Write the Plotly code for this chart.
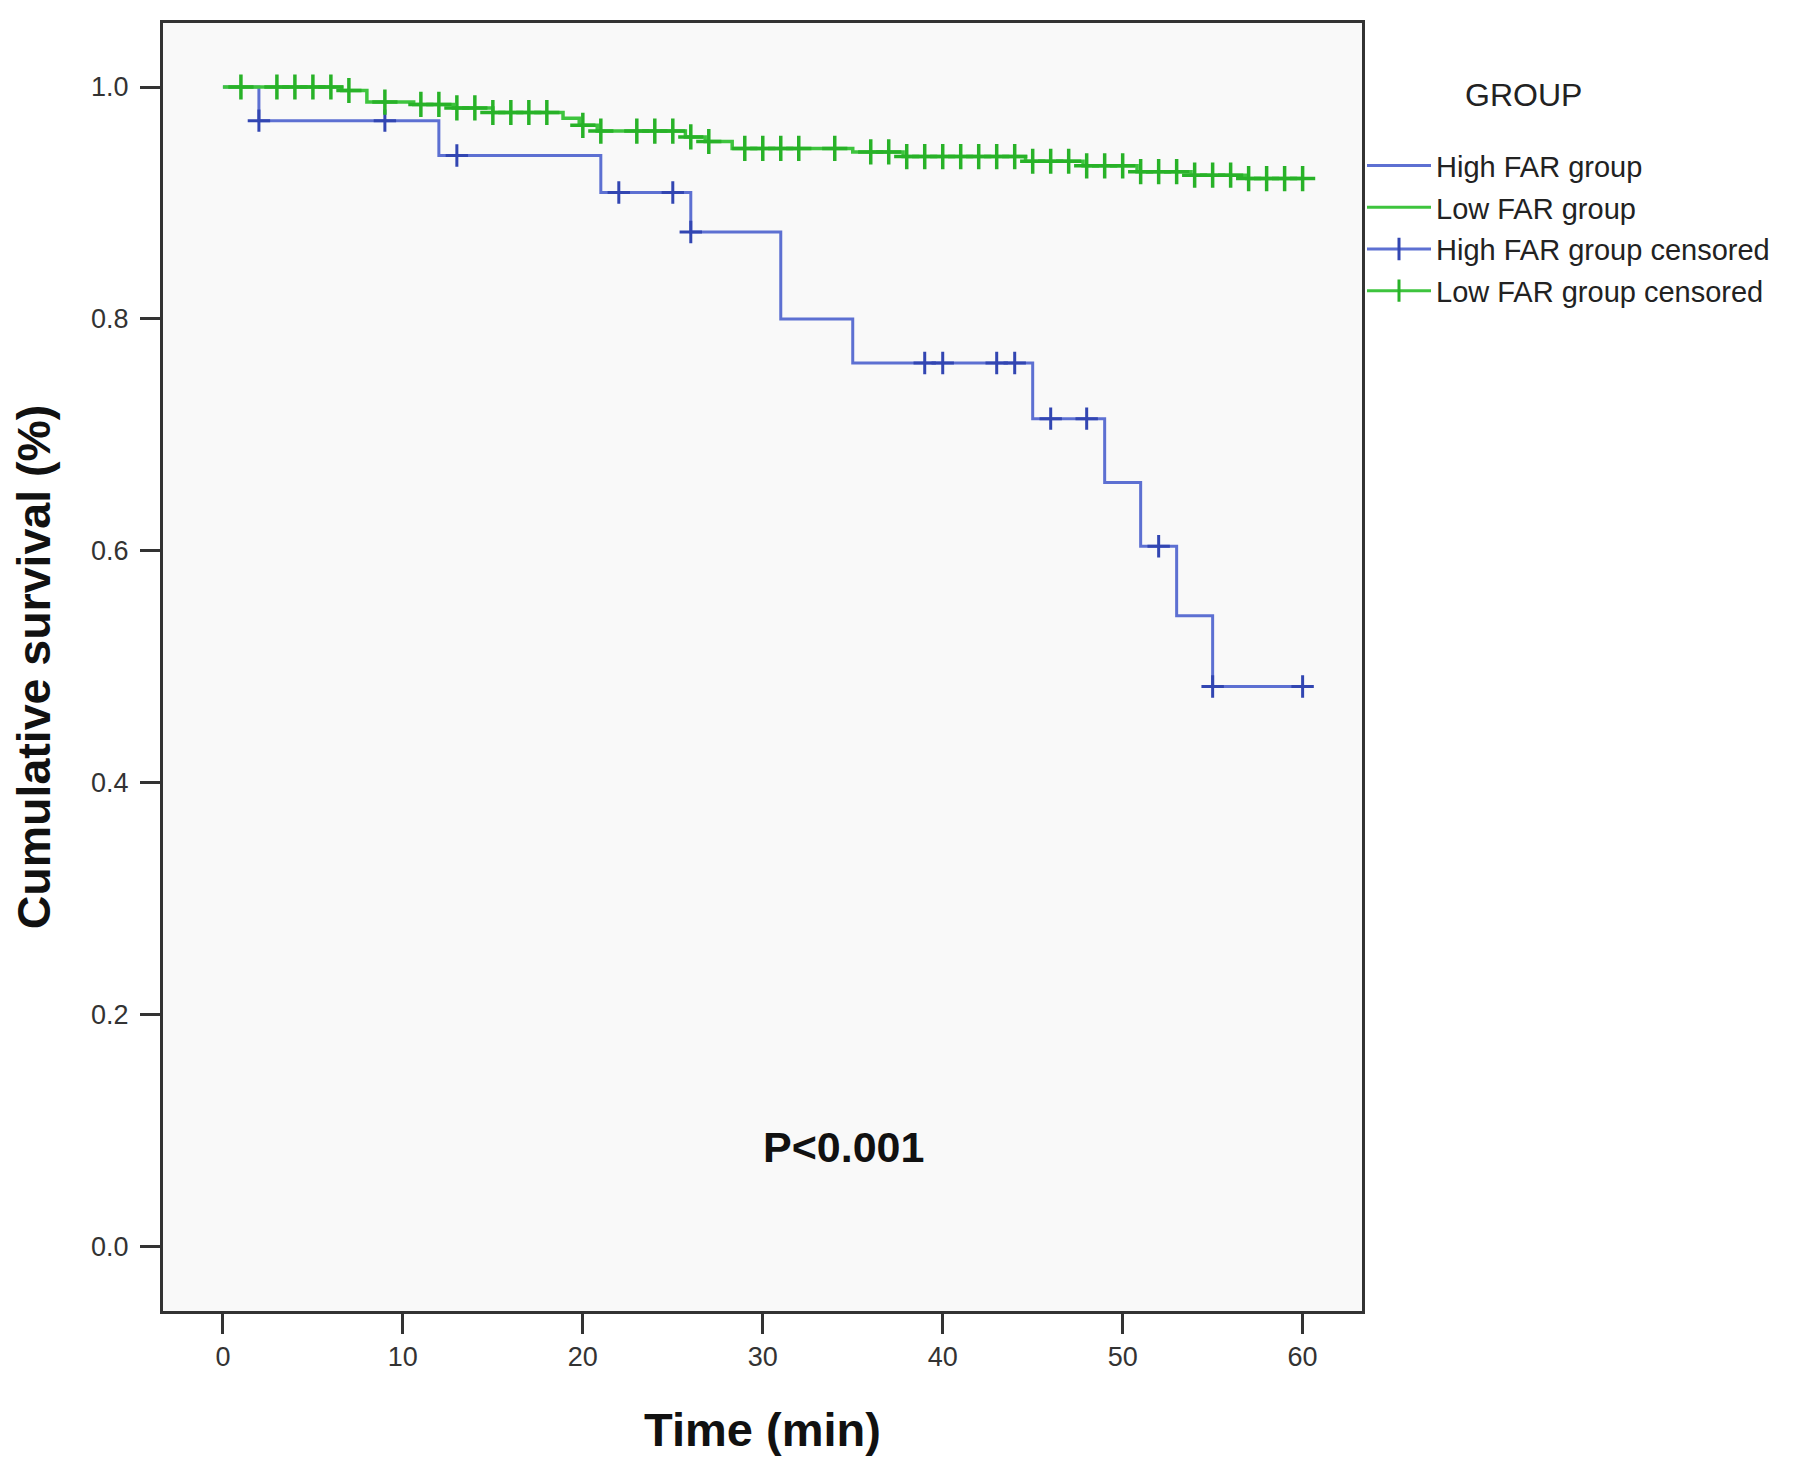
import plotly.graph_objects as go

# Kaplan-Meier step data (time in min, cumulative survival)
high_times = [0, 2, 12, 21, 26, 31, 35, 45, 49, 51, 53, 55, 60]
high_surv = [1.0, 0.971, 0.941, 0.909, 0.875, 0.800, 0.762, 0.714, 0.659, 0.604, 0.544, 0.483, 0.483]
high_censored = [2, 9, 13, 22, 25, 26, 39, 40, 43, 44, 46, 48, 52, 55, 60]

low_times = [0, 6.6, 8.0, 10.6, 12.8, 15.0, 18.9, 19.8, 20.8, 25.7, 26.8, 28.3,
             35.0, 37.8, 44.6, 47.8, 50.8, 53.8, 56.9, 60]
low_surv = [1.0, 0.997, 0.987, 0.985, 0.982, 0.978, 0.973, 0.967, 0.962, 0.957, 0.953, 0.947,
            0.944, 0.940, 0.936, 0.932, 0.927, 0.924, 0.921, 0.921]
low_censored = [1, 3, 4, 5, 6, 7, 9, 11, 12, 13, 14, 15, 16, 17, 18, 20, 21, 23, 24, 25, 26, 27,
                29, 30, 31, 32, 34, 36, 37, 38, 39, 40, 41, 42, 43, 44, 45, 46, 47, 48, 49, 50,
                51, 52, 53, 54, 55, 56, 57, 58, 59, 60]

x_ticks = [0, 10, 20, 30, 40, 50, 60]
y_ticks = [0.0, 0.2, 0.4, 0.6, 0.8, 1.0]

BLUE = "#5d70d2"
BLUE_MARK = "#3246b2"
GREEN = "#3ec43e"
GREEN_MARK = "#28b228"
FONT = "Liberation Sans, Arial, sans-serif"


def surv_at(times, surv, t):
    # value of the step curve at time t (right-continuous)
    val = surv[0]
    for ti, si in zip(times, surv):
        if ti <= t:
            val = si
    return val


fig = go.Figure()

# curves
fig.add_trace(go.Scatter(x=high_times, y=high_surv, mode="lines", line_shape="hv",
                         line=dict(color=BLUE, width=3), showlegend=False))
fig.add_trace(go.Scatter(x=low_times, y=low_surv, mode="lines", line_shape="hv",
                         line=dict(color=GREEN, width=3.5), showlegend=False))

# censor marks
fig.add_trace(go.Scatter(x=high_censored, y=[surv_at(high_times, high_surv, t) for t in high_censored],
                         mode="markers", showlegend=False,
                         marker=dict(symbol="cross-thin", size=16, line=dict(color=BLUE_MARK, width=3))))
fig.add_trace(go.Scatter(x=low_censored, y=[surv_at(low_times, low_surv, t) for t in low_censored],
                         mode="markers", showlegend=False,
                         marker=dict(symbol="cross-thin", size=18, line=dict(color=GREEN_MARK, width=3.5))))

# legend entries
fig.add_trace(go.Scatter(x=[None], y=[None], mode="lines", name="High FAR group",
                         legendgroup="a", line=dict(color=BLUE, width=3)))
fig.add_trace(go.Scatter(x=[None], y=[None], mode="lines", name="Low FAR group",
                         legendgroup="b", line=dict(color=GREEN, width=3)))
fig.add_trace(go.Scatter(x=[None], y=[None], mode="lines+markers", name="High FAR group censored",
                         legendgroup="c", line=dict(color=BLUE, width=3),
                         marker=dict(symbol="line-ns", size=28, line=dict(color=BLUE_MARK, width=3))))
fig.add_trace(go.Scatter(x=[None], y=[None], mode="lines+markers", name="Low FAR group censored",
                         legendgroup="d", line=dict(color=GREEN, width=3),
                         marker=dict(symbol="line-ns", size=28, line=dict(color=GREEN_MARK, width=3))))

fig.add_annotation(x=34.5, y=0.086, xref="x", yref="y", text="<b>P<0.001</b>", showarrow=False,
                   xanchor="center", yanchor="middle",
                   font=dict(family=FONT, size=43, color="#111"))
fig.add_annotation(x=1.135, y=0.944, xref="paper", yref="paper", text="GROUP", showarrow=False,
                   xanchor="center", yanchor="middle",
                   font=dict(family=FONT, size=32, color="#222"))

axis_common = dict(showline=True, linecolor="#333", linewidth=3, mirror=True,
                   ticks="outside", tickwidth=3, tickcolor="#333",
                   showgrid=False, zeroline=False,
                   tickfont=dict(family=FONT, size=27, color="#333"))

fig.update_xaxes(range=[-3.33, 63.3], tickvals=x_ticks, ticklen=20,
                 title=dict(text="<b>Time (min)</b>", standoff=42,
                            font=dict(family=FONT, size=47, color="#111")),
                 **axis_common)
fig.update_yaxes(range=[-0.0555, 1.0552], tickvals=y_ticks, tickformat=".1f", ticklen=20,
                 ticklabelstandoff=6,
                 title=dict(text="<b>Cumulative survival (%)</b>", standoff=33,
                            font=dict(family=FONT, size=46.5, color="#111")),
                 **axis_common)

fig.update_layout(
    width=1779, height=1460,
    margin=dict(l=155, r=422, t=15, b=157),
    plot_bgcolor="#f9f9f9", paper_bgcolor="white",
    legend=dict(x=1.0, y=0.909, xanchor="left", yanchor="top",
                font=dict(family=FONT, size=29, color="#222"),
                itemwidth=64, tracegroupgap=1, bgcolor="rgba(0,0,0,0)"),
)

fig.write_html("out.html")
